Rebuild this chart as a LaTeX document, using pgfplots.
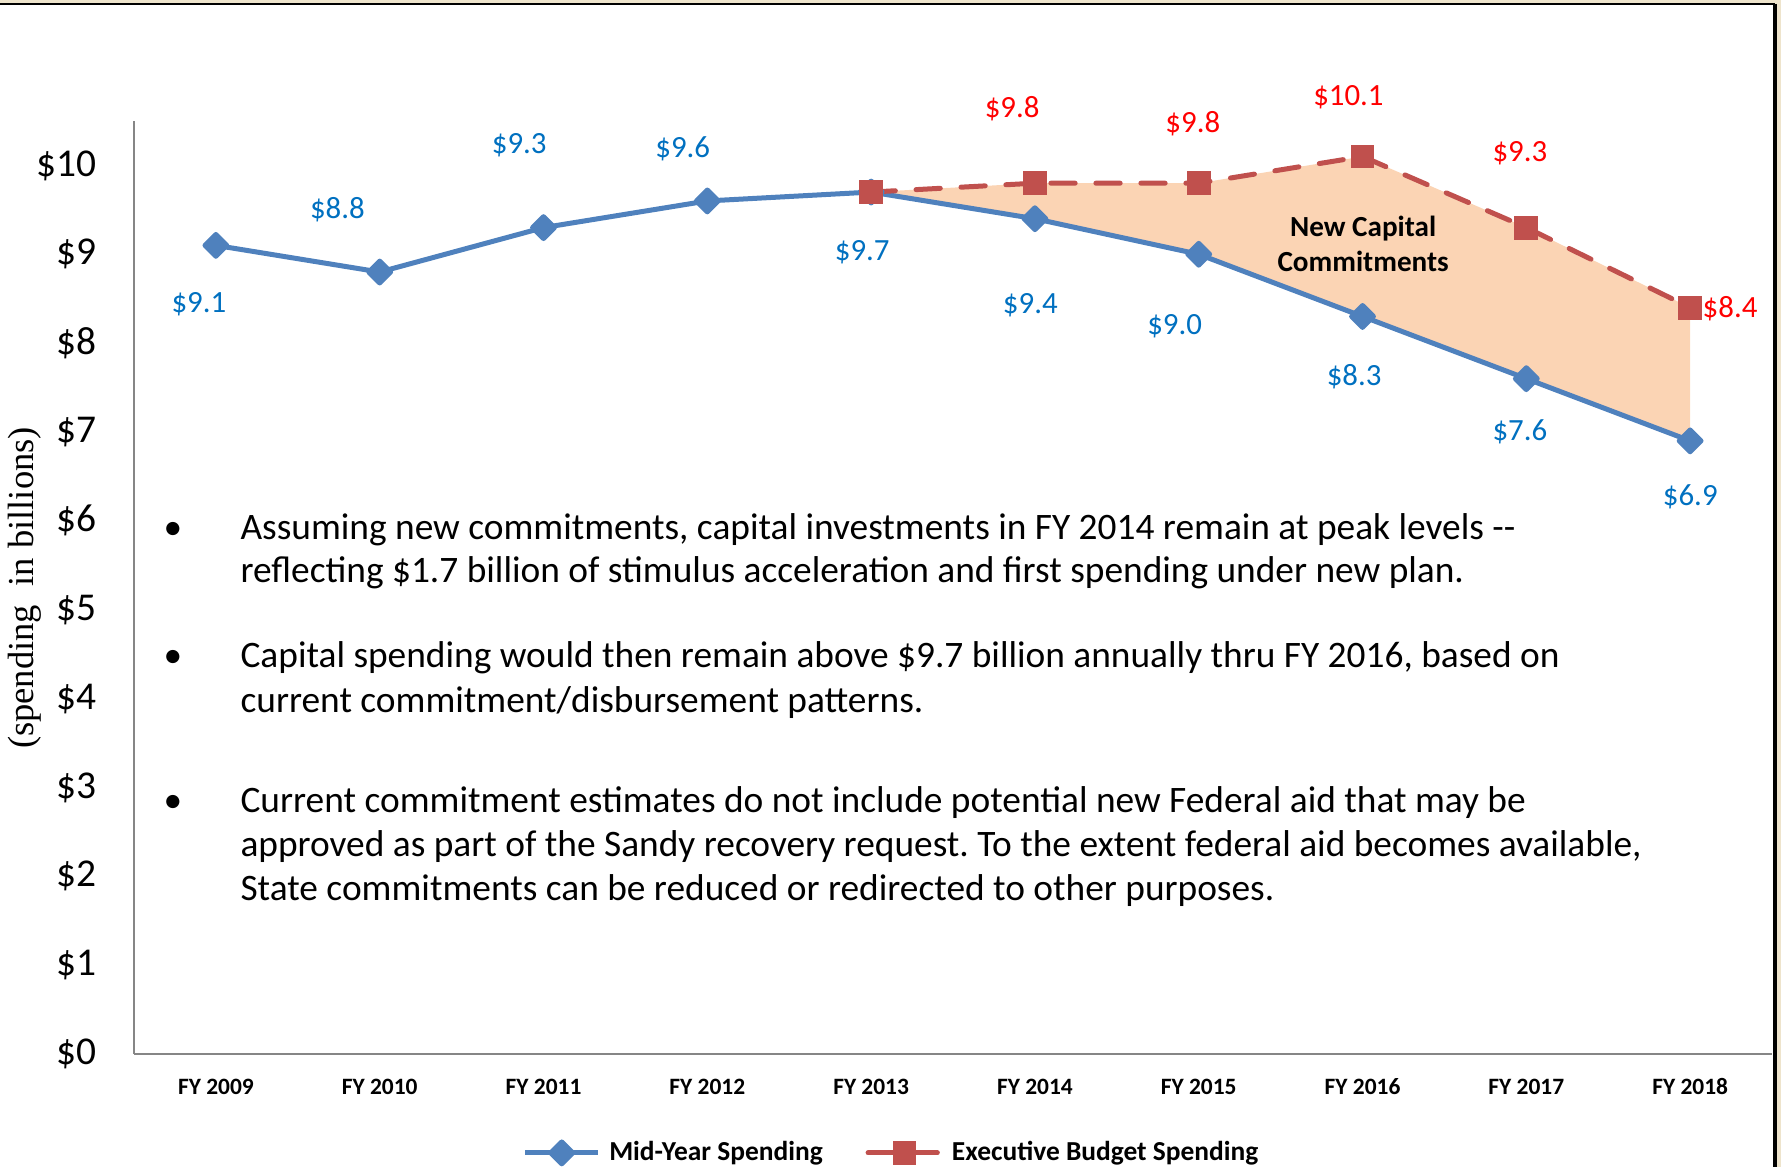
\documentclass[border=0pt]{standalone}
\usepackage{pgfplots}
\pgfplotsset{compat=1.18}
\usepackage{pgfplotstable}
\usepgfplotslibrary{fillbetween}
\usepackage{fontspec}
\setmainfont{Carlito}
\newfontfamily\seriffont{Liberation Serif}
\definecolor{lblue}{RGB}{79,129,189}
\definecolor{lred}{RGB}{192,80,77}
\definecolor{tblue}{RGB}{0,112,192}
\definecolor{tred}{RGB}{255,0,0}
\definecolor{peach}{RGB}{251,212,180}
\definecolor{axgray}{RGB}{134,134,134}
\definecolor{beige}{RGB}{238,228,204}
\frenchspacing

\pgfplotstableread{
x y
0 9.1
1 8.8
2 9.3
3 9.6
4 9.7
5 9.4
6 9.0
7 8.3
8 7.6
9 6.9
}\midyear
\pgfplotstableread{
x y
4 9.7
5 9.8
6 9.8
7 10.1
8 9.3
9 8.4
}\execbudget

\newcommand{\lblfont}{\fontsize{10.8}{12}\selectfont}
\newcommand{\bulfont}{\fontsize{13.08}{15}\selectfont}

\begin{document}
\begin{tikzpicture}
\path (0,0) rectangle (623.35pt,408.45pt);
\fill[beige] (0,407.05pt) rectangle (623.35pt,408.45pt);
\fill[beige] (621.25pt,0) rectangle (623.35pt,408.45pt);
\draw[black, line width=1.0pt] (0,407.05pt) -- (621.25pt,407.05pt);
\draw[black, line width=1.4pt] (621.25pt,407.05pt) -- (621.25pt,0);

\begin{axis}[
  at={(46.9pt,39.55pt)}, anchor=south west, scale only axis,
  width=573.3pt, height=326.55pt,
  xmin=-0.5, xmax=9.5, ymin=0, ymax=10.5,
  axis x line*=bottom, axis y line*=left,
  axis line style={draw=axgray, line width=0.7pt, -},
  xtick={0,...,9},
  xticklabels={FY 2009,FY 2010,FY 2011,FY 2012,FY 2013,FY 2014,FY 2015,FY 2016,FY 2017,FY 2018},
  ytick={0,...,10},
  yticklabels={\$0,\$1,\$2,\$3,\$4,\$5,\$6,\$7,\$8,\$9,\$10},
  major tick length=0pt,
  xticklabel style={anchor=center, yshift=-11.5pt, font=\bfseries\fontsize{8.2}{10}\selectfont},
  yticklabel style={anchor=east, inner sep=0pt, xshift=-12.8pt, font=\fontsize{13.8}{16}\selectfont},
  clip=false, set layers,
  legend style={at={(0.4619,-0.106)}, anchor=center, draw=none, fill=none,
    inner sep=0pt, outer sep=0pt, nodes={inner sep=0pt},
    legend columns=2, font=\bfseries\fontsize{9.6}{11}\selectfont,
    /tikz/every odd column/.append style={column sep=3pt},
    /tikz/every even column/.append style={column sep=15pt}},
  legend cell align=left,
  legend image code/.code={\draw[mark repeat=2,mark phase=2,#1] plot coordinates {(0pt,0pt) (12.75pt,0pt) (25.5pt,0pt)};},
]
\addplot[name path=mid, color=lblue, line width=1.75pt, line join=round,
  mark=square*, mark size=2.7pt, mark options={rotate=45, solid}]
  table[x=x,y=y] {\midyear};
\addlegendentry{Mid-Year Spending}
\addplot[name path=exe, color=lred, line width=1.75pt, line cap=round,
  dash pattern=on 8.5pt off 7.25pt,
  mark=square*, mark size=3.3pt, mark options={solid, line cap=butt}]
  table[x=x,y=y] {\execbudget};
\addlegendentry{Executive Budget Spending}
\addplot[peach, forget plot] fill between[of=exe and mid, soft clip={domain=4:9}];

% data labels, mid-year
\node[text=tblue, font=\lblfont] at (axis cs:-0.104,8.44) {\$9.1};
\node[text=tblue, font=\lblfont] at (axis cs:0.742,9.50) {\$8.8};
\node[text=tblue, font=\lblfont] at (axis cs:1.852,10.23) {\$9.3};
\node[text=tblue, font=\lblfont] at (axis cs:2.850,10.19) {\$9.6};
\node[text=tblue, font=\lblfont] at (axis cs:3.946,9.02) {\$9.7};
\node[text=tblue, font=\lblfont] at (axis cs:4.972,8.43) {\$9.4};
\node[text=tblue, font=\lblfont] at (axis cs:5.853,8.19) {\$9.0};
\node[text=tblue, font=\lblfont] at (axis cs:6.949,7.62) {\$8.3};
\node[text=tblue, font=\lblfont] at (axis cs:7.961,7.00) {\$7.6};
\node[text=tblue, font=\lblfont] at (axis cs:9.001,6.27) {\$6.9};
% data labels, executive budget
\node[text=tred, font=\lblfont] at (axis cs:4.861,10.64) {\$9.8};
\node[text=tred, font=\lblfont] at (axis cs:5.964,10.47) {\$9.8};
\node[text=tred, font=\lblfont] at (axis cs:6.914,10.77) {\$10.1};
\node[text=tred, font=\lblfont] at (axis cs:7.961,10.14) {\$9.3};
\node[text=tred, font=\lblfont] at (axis cs:9.244,8.39) {\$8.4};

\node[align=center, font=\bfseries\fontsize{10.2}{12.25}\selectfont] at (axis cs:7.004,9.12) {New Capital\\Commitments};
\end{axis}

\begin{scope}[x=0.35pt,y=0.35pt]
% y axis label
\node[rotate=90, font=\seriffont\fontsize{12.8}{15}\selectfont] at (25,579) {(spending\ \ in billions)};

% bullet text
\begin{scope}[every node/.style={inner sep=0pt, font=\bulfont}]
\node[anchor=base] at (173,627) {•};
\node[anchor=base west] at (240,627) {Assuming new commitments, capital investments in FY 2014 remain at peak levels -{}-};
\node[anchor=base west] at (240,584) {reflecting \$1.7 billion of stimulus acceleration and first spending under new plan.};
\node[anchor=base] at (173,499) {•};
\node[anchor=base west] at (240,499) {Capital spending would then remain above \$9.7 billion annually thru FY 2016, based on};
\node[anchor=base west] at (240,454) {current commitment/disbursement patterns.};
\node[anchor=base] at (173,354) {•};
\node[anchor=base west] at (240,354) {Current commitment estimates do not include potential new Federal aid that may be};
\node[anchor=base west] at (240,310) {approved as part of the Sandy recovery request. To the extent federal aid becomes available,};
\node[anchor=base west] at (240,266) {State commitments can be reduced or redirected to other purposes.};
\end{scope}
\end{scope}
\pgfresetboundingbox
\useasboundingbox (0,0) rectangle (623.35pt,408.45pt);
\end{tikzpicture}
\end{document}
